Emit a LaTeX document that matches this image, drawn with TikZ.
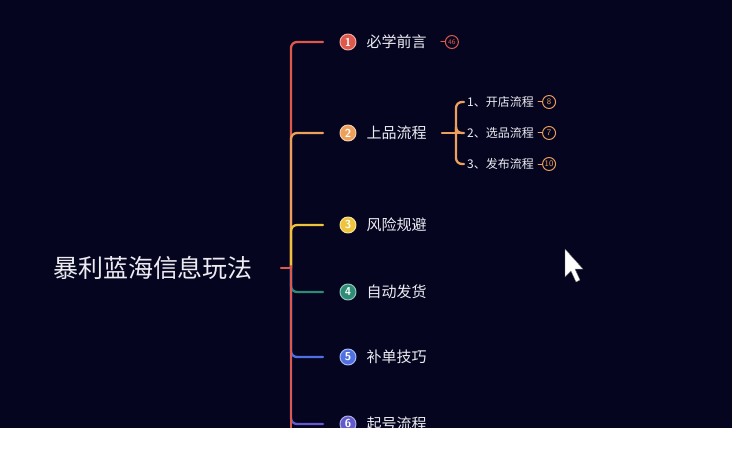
\documentclass[tikz,border=0pt]{standalone}
\usepackage{fontspec}
\newfontfamily\cjk{Noto Sans CJK SC}
\usetikzlibrary{positioning}
\definecolor{mapbg}{RGB}{5,5,32}
\definecolor{mapred}{RGB}{222,88,76}
\definecolor{maporange}{RGB}{236,160,90}
\definecolor{mapyellow}{RGB}{238,196,60}
\definecolor{mapteal}{RGB}{46,140,118}
\definecolor{mapblue}{RGB}{80,112,225}
\definecolor{mappurple}{RGB}{98,90,205}
\definecolor{maptext}{RGB}{236,236,242}

\begin{document}
\begin{tikzpicture}[x=1pt,y=-1pt,line cap=round,line join=round,
 branch/.style={line width=2.3pt,rounded corners=6pt},
 numdot/.style={circle,fill=#1,draw=#1!50!white,line width=1pt,inner sep=0pt,
  minimum size=16pt,text=white,font=\sffamily\bfseries\fontsize{11.5}{11.5}\selectfont},
 topic/.style={inner sep=0pt,text=maptext,font=\cjk\fontsize{15}{15}\selectfont},
 subtopic/.style={anchor=west,inner sep=0pt,text=maptext,font=\cjk\fontsize{12}{12}\selectfont},
 badge/.style={circle,draw=#1,fill=mapbg,line width=1pt,inner sep=0pt,
  minimum size=13pt,text=#1,font=\sffamily\fontsize{8.5}{8.5}\selectfont}]
 \useasboundingbox (0,0) rectangle (732,452);
 \fill[mapbg] (0,0) rectangle (732,452);
 % root topic
 \node[inner sep=0pt,text=maptext,font=\cjk\fontsize{25}{25}\selectfont] (root) at (153,268) {暴利蓝海信息玩法};
 \coordinate (stub) at (281,268); \coordinate (hub) at (291,268);
 \coordinate (trunkend) at (291,450);
 \draw[branch,mapred] (stub) -- (hub);
 % main branches
 \foreach \i/\y/\c/\t in {1/42/mapred/必学前言,2/133/maporange/上品流程,
   3/225/mapyellow/风险规避,4/292/mapteal/自动发货,5/357/mapblue/补单技巧,
   6/424/mappurple/起号流程}{
  \coordinate (e\i) at (323,\y);
  \draw[branch,\c] (hub) |- (e\i);
  \node[numdot=\c] (n\i) at (348,\y) {\i};
  \node[topic,right=10pt of n\i] (t\i) {\t};
 }
 \draw[branch,mapred] ([yshift=2pt]hub) -- (trunkend);
 \node[badge=mapred,right=18pt of t1,font=\sffamily\fontsize{7}{7}\selectfont] (k1) {46};
 \draw[mapred,line width=1pt] ([xshift=-4pt]k1.west) -- (k1.west);
 % sub branches of 2
 \coordinate (s0) at (442,133); \coordinate (sh) at (456,133);
 \coordinate (sx) at (460,133);
 \draw[branch,maporange] (s0) -- (sx);
 \foreach \j/\y/\t/\n in {1/102/开店流程/8,2/133/选品流程/7,3/164/发布流程/10}{
  \coordinate (u\j) at (464,\y);
  \draw[branch,maporange] (sh) |- (u\j);
  \node[subtopic] (v\j) at (467,\y) {\j、\t};
  \node[badge=maporange,right=8pt of v\j] (w\j) {\n};
  \draw[maporange,line width=1pt] ([xshift=-4pt]w\j.west) -- (w\j.west);
 }
 % pointer
 \fill[white,draw=black!60,line width=.4pt] (565,249) -- (565,277) -- (571,271)
  -- (576,282) -- (580,280) -- (575,269) -- (583,269) -- cycle;
 \fill[white] (0,428) rectangle (732,452);
\end{tikzpicture}
\end{document}
